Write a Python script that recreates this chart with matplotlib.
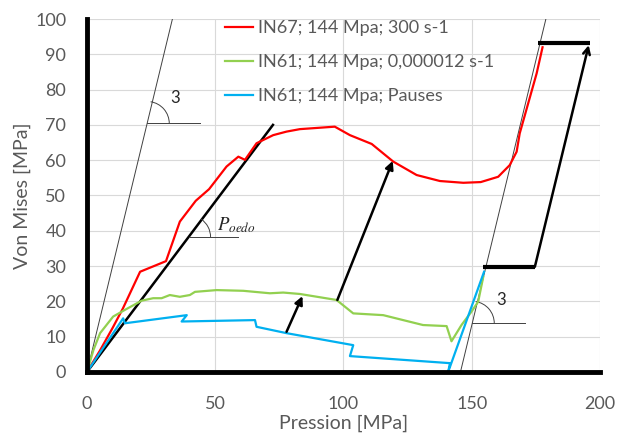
import matplotlib
matplotlib.use('Agg')
import numpy as np
import matplotlib.pyplot as plt
from matplotlib.patches import Arc

plt.rcParams['font.family'] = ['Lato', 'DejaVu Sans']
plt.rcParams['mathtext.fontset'] = 'stix'

# courbes mesurees
red_x = [0, 5, 10, 14, 20.7, 30.8, 36.2, 42.4, 47.6, 54.4, 59, 61.6, 66.1, 72.6, 77.8, 83,
         96.6, 102.5, 111, 119.4, 128.5, 137.6, 146.7, 153.5, 160.3, 164.8, 167.5, 168.7,
         172, 175.3, 177.6]
red_y = [0, 6, 12.5, 18, 28.4, 31.4, 42.6, 48.5, 51.8, 58.2, 61, 60.1, 64.8, 67.1, 68.1, 68.8,
         69.5, 67.1, 64.6, 59.6, 55.8, 54.1, 53.6, 53.8, 55.3, 58.6, 62.4, 67.6,
         76.1, 84.6, 92]

green_x = [0, 2.5, 5.1, 10.2, 14.8, 21.3, 25.8, 29.1, 32.3, 36.2, 40.1, 42.1, 50.5, 60.9,
           71.3, 76.5, 83, 97.3, 103.8, 115.5, 131, 140.2, 142.1, 146, 149.9, 152.5, 154.5]
green_y = [0, 6.2, 11, 15.7, 17.6, 20.2, 20.9, 20.9, 21.8, 21.3, 21.8, 22.7, 23.2, 23.0,
           22.3, 22.5, 22.1, 20.4, 16.6, 16.1, 13.3, 13.0, 8.7, 13.3, 17.1, 19.9, 27]

blue_x = [0, 14.1, 14.8, 38.9, 36.9, 65.5, 66.1, 77.8, 103.8, 102.5, 141.5, 140.8, 154.8]
blue_y = [0, 15.2, 13.8, 16.1, 14.3, 14.7, 12.8, 11.0, 7.6, 4.5, 2.5, 0, 28.4]

labels = ['IN67; 144 Mpa; 300 s-1', 'IN61; 144 Mpa; 0,000012 s-1', 'IN61; 144 Mpa; Pauses']

# annotations (pentes et fleches)
oedo_line = ([0, 72.5], [0, 70])
slope3_a = ([0, 33.3], [0, 100])
slope3_b = ([145.6, 178.9], [0, 100])
bar_low = ([154.5, 174.6], [29.8, 29.8])
bar_high = ([175.9, 196], [93.1, 93.1])
arrow_small = ((77.8, 11.4), (84, 21.5))
arrow_big = ((97.6, 20.4), (119.2, 59.8))
arrow_right = ((174.6, 29.8), (195.6, 92.6))

fig = plt.figure(figsize=(6.29, 4.34), dpi=100)
ax = fig.add_axes([0.1383, 0.1429, 0.8156, 0.8133])

ax.plot(red_x, red_y, color='#FF0000', lw=1.6, label=labels[0], zorder=4)
ax.plot(green_x, green_y, color='#92D050', lw=1.6, label=labels[1], zorder=4)
ax.plot(blue_x, blue_y, color='#00B0F0', lw=1.6, label=labels[2], zorder=4)

# droites de pente
ax.plot(*oedo_line, color='black', lw=1.8, zorder=3)
ax.plot(*slope3_a, color='#404040', lw=0.7, zorder=3)
ax.plot(*slope3_b, color='#404040', lw=0.7, zorder=3)
ax.plot(*bar_low, color='black', lw=3, zorder=5, solid_capstyle='butt')
ax.plot(*bar_high, color='black', lw=3, zorder=5, solid_capstyle='butt')

for (p0, p1), style in [(arrow_small, '-|>'), (arrow_big, '-|>'), (arrow_right, '->')]:
    ax.annotate('', xy=p1, xytext=p0,
                arrowprops=dict(arrowstyle=style, color='black', lw=1.8,
                                mutation_scale=12, shrinkA=0, shrinkB=0), zorder=5)

# marqueurs d'angle
def angle_mark(xc, yc, x_end, slope_deg, txt, tx, ty, size=12):
    ax.plot([xc, x_end], [yc, yc], color='#404040', lw=0.7, zorder=3)
    # rayon ~22 px converti en unites de donnees
    rx = 22 / 2.565
    ry = 22 / 3.53
    arc = Arc((xc, yc), 2 * rx, 2 * ry, theta1=0, theta2=slope_deg,
              color='#404040', lw=0.7, zorder=3)
    ax.add_patch(arc)
    ax.text(tx, ty, txt, fontsize=size, color='#262626', ha='left', va='center')

angle_mark(23.5, 70.4, 44, 78, '3', 32.5, 77.5)
angle_mark(39.6, 38.2, 59, 47, r'$P_{oedo}$', 50.5, 41.5, size=13.5)
angle_mark(150.2, 13.8, 170.7, 78, '3', 159.5, 20.5)

ax.set_xlim(0, 200)
ax.set_ylim(0, 100)
ax.set_xticks(np.arange(0, 201, 50))
ax.set_yticks(np.arange(0, 101, 10))
ax.grid(True, color='#D9D9D9', lw=0.8)
ax.set_axisbelow(True)
ax.tick_params(length=0, labelsize=13, labelcolor='#595959')
ax.tick_params(axis='x', pad=17)
ax.tick_params(axis='y', pad=15)

for s in ['top', 'right']:
    ax.spines[s].set_visible(False)
for s in ['left', 'bottom']:
    ax.spines[s].set_linewidth(3.5)
    ax.spines[s].set_color('black')
    ax.spines[s].set_zorder(6)

ax.set_xlabel('Pression [MPa]', fontsize=14, color='#595959', labelpad=2)
ax.set_ylabel('Von Mises [MPa]', fontsize=14, color='#595959', labelpad=3)

ax.legend(loc='upper left', bbox_to_anchor=(0.269, 0.997), frameon=False,
          borderaxespad=0, borderpad=0, handlelength=1.55, handletextpad=0.3,
          labelspacing=1.0, fontsize=13, labelcolor='#595959')

fig.savefig('out.png', dpi=100, facecolor='white')
